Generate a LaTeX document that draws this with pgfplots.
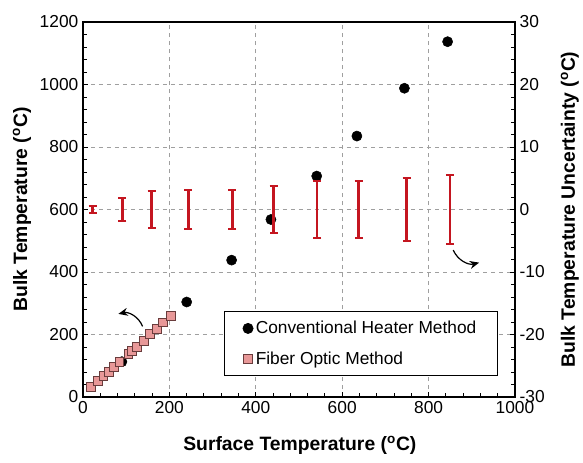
\documentclass[border=0pt]{standalone}
\usepackage{fontspec}
\setmainfont{Liberation Sans}
\usepackage{pgfplots}
\pgfplotsset{compat=1.18}
\usetikzlibrary{arrows.meta}
\definecolor{barred}{RGB}{196,22,32}
\definecolor{sqfill}{RGB}{232,152,152}
\definecolor{sqedge}{RGB}{105,60,60}

\begin{document}
\begin{tikzpicture}
\pgfplotsset{
  base/.style={
    width=324pt, height=281.25pt, scale only axis,
    xmin=0, xmax=1000,
    tick label style={font=\fontsize{13}{15}\selectfont},
    /pgf/number format/assume math mode=true,
    /pgf/number format/1000 sep={},
    major tick length=4pt, minor tick length=3pt,
    tick style={black, line width=0.7pt},
    axis line style={line width=1pt},
  }
}
\begin{axis}[base,
  ymin=0, ymax=1200,
  xtick={0,200,...,1000}, ytick={0,200,...,1200},
  minor x tick num=4, minor y tick num=4,
  xtick pos=bottom, ytick pos=left, tick align=inside,
  grid=major, grid style={dashed, gray!75, line width=0.5pt},
  xlabel={Surface Temperature (\textsuperscript{o}C)},
  ylabel={Bulk Temperature (\textsuperscript{o}C)},
  every axis x label/.style={at={(axis description cs:0.502,-0.128)}, anchor=center,
    font=\fontsize{14.5}{17}\selectfont\bfseries},
  every axis y label/.style={at={(axis description cs:-0.141,0.5)}, rotate=90, anchor=center,
    font=\fontsize{14.5}{17}\selectfont\bfseries},
  legend style={at={(0.961,0.056)}, anchor=south east, draw=black, line width=0.6pt,
    font=\fontsize{13}{15}\selectfont, row sep=8pt, inner xsep=14pt, inner ysep=5pt,
    legend cell align=left},
]
\addplot[only marks, mark=*, mark size=3.8pt, black] coordinates {
  (90,113) (240,304) (344,438) (435,568) (541,707) (634,835) (744,988) (844,1137)};
\addplot[only marks, mark=square*, mark size=3.3pt, mark options={fill=sqfill, draw=sqedge, line width=0.5pt}] coordinates {
  (18,33) (34,51) (47,67) (59,81) (72,97) (84,112) (105,137) (113,147)
  (124,160) (140,181) (155,201) (171,218) (185,239) (204,259)};
\legend{Conventional Heater Method, Fiber Optic Method}
\draw[-{Stealth[length=7pt,width=6pt]}, line width=0.9pt] (axis cs:138,226) to[bend right=40] (axis cs:82,266);
\draw[-{Stealth[length=7pt,width=6pt]}, line width=0.9pt] (axis cs:857,470) to[bend right=40] (axis cs:917,430);
\end{axis}
\begin{axis}[base,
  ymin=-30, ymax=30,
  axis x line=none, axis y line*=right, tick align=inside,
  ytick={-30,-20,...,30}, minor y tick num=4,
  ylabel={Bulk Temperature Uncertainty (\textsuperscript{o}C)},
  every axis y label/.style={at={(axis description cs:1.127,0.5)}, rotate=90, anchor=center,
    font=\fontsize{14.5}{17}\selectfont\bfseries},
]
\addplot[draw=none, mark=none, forget plot, error bars/.cd, y dir=both, y explicit,
  error mark=|,
  error bar style={barred, line width=1.9pt},
  error mark options={barred, line width=1.4pt, mark size=3pt}] coordinates {
  (22,0) +- (0,0.6)
  (91,0) +- (0,1.86)
  (159,0) +- (0,2.93)
  (244,0) +- (0,3.1)
  (346,0) +- (0,3.1)
  (441,0) +- (0,3.73)
  (542,0) +- (0,4.53)
  (638,0) +- (0,4.51)
  (749,0) +- (0,5.07)
  (849,0) +- (0,5.57)};
\end{axis}
\pgfresetboundingbox
\path[use as bounding box] (-62.25pt,-48.75pt) rectangle (375pt,297.75pt);
\end{tikzpicture}
\end{document}
